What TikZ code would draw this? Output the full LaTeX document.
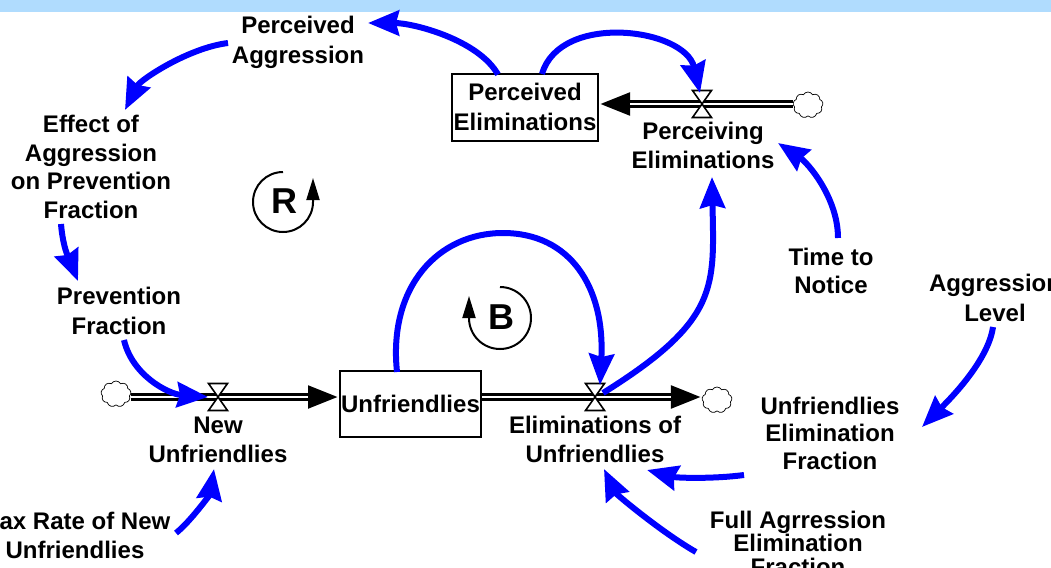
\documentclass[tikz,border=0pt]{standalone}
\usepackage{fontspec}
\setmainfont{Liberation Sans}
\usetikzlibrary{arrows.meta,calc,shapes.symbols}
\definecolor{bandblue}{RGB}{176,220,254}
\definecolor{linkblue}{RGB}{0,0,255}
\newcommand\lstrut{\rule[\dimexpr 8.5pt-0.5\baselineskip\relax]{0pt}{\baselineskip}}
\newcommand\lblfont[1]{\fontsize{24pt}{#1}\selectfont\bfseries\lineskiplimit=-100pt\relax}
\begin{document}
\begin{tikzpicture}[x=1pt,y=-1pt,
  lbl/.style={inner sep=0pt,align=center,font=\lblfont{29pt}},
  stockbox/.style={draw,line width=2pt,inner sep=0pt,align=center,font=\lblfont{30pt}},
  srcsink/.style={cloud,cloud puffs=9,cloud puff arc=120,aspect=1.1,draw,line width=0.7pt,inner sep=0pt,minimum width=30pt,minimum height=26pt},
  pipe/.style={line width=7.5pt,-{Triangle[length=31pt,width=21pt]}},
  pipecore/.style={white,line width=2.6pt,shorten >=31pt},
  valveshape/.style={draw,fill=white,line width=1.6pt,line join=miter},
  loopline/.style={line width=2pt,-{Triangle[length=22pt,width=13pt]}},
  looplabel/.style={inner sep=0pt,font=\fontsize{36pt}{36pt}\selectfont\bfseries},
  infl/.style={draw=linkblue,line width=6pt,-{Stealth[length=31pt,width=25pt,inset=3pt]}}
]
\path[use as bounding box] (0,0) rectangle (1051,567);
\fill[bandblue] (0,0) rectangle (1051,12.5);

% text variables
\node[lbl,font=\lblfont{30pt}] (pa) at (298,40) {Perceived\lstrut\\Aggression\lstrut};
\node[lbl,font=\lblfont{28.7pt}] (eff) at (91,167) {Effect of\lstrut\\Aggression\lstrut\\on Prevention\lstrut\\Fraction\lstrut};
\node[lbl,font=\lblfont{30pt}] (pf) at (119,310.5) {Prevention\lstrut\\Fraction\lstrut};
\node[lbl] (pvl) at (703,145.5) {Perceiving\lstrut\\Eliminations\lstrut};
\node[lbl,font=\lblfont{28.5pt}] (tn) at (831,271) {Time to\lstrut\\Notice\lstrut};
\node[lbl,font=\lblfont{30pt}] (al) at (995,298) {Aggression\lstrut\\Level\lstrut};
\node[lbl,font=\lblfont{27.5pt}] (uef) at (830,433) {Unfriendlies\lstrut\\Elimination\lstrut\\Fraction\lstrut};
\node[lbl,font=\lblfont{23.5pt}] (fae) at (798,543) {Full Agrression\lstrut\\Elimination\lstrut\\Fraction\lstrut};
\node[lbl] (nvl) at (218,439) {New\lstrut\\Unfriendlies\lstrut};
\node[lbl] (evl) at (595,439) {Eliminations of\lstrut\\Unfriendlies\lstrut};
\node[lbl] (mr) at (75,535.5) {Max Rate of New\lstrut\\Unfriendlies\lstrut};

% stocks and clouds
\node[stockbox,minimum width=146pt,minimum height=67pt] (pe) at (525,107.5) {Perceived\lstrut\\Eliminations\lstrut};
\node[stockbox,minimum width=141pt,minimum height=66pt] (un) at (410.5,404) {Unfriendlies\lstrut};
\node[srcsink] (c1) at (116,394) {};
\node[srcsink] (c2) at (717,400) {};
\node[srcsink] (c3) at (808,105) {};

% valves
\coordinate (nv) at (218,397);
\coordinate (ev) at (595,397);
\coordinate (pv) at (702,104);
\coordinate (bapex) at (503,233);

% pipes
\draw[pipe] (nv -| c1.east) -- (nv -| un.west);
\draw[pipecore] (nv -| c1.east) -- (nv -| un.west);
\draw[pipe] (ev -| un.east) -- (ev -| c2.west);
\draw[pipecore] (ev -| un.east) -- (ev -| c2.west);
\draw[pipe] (pv -| c3.west) -- (pv -| pe.east);
\draw[pipecore] (pv -| c3.west) -- (pv -| pe.east);

\foreach \v in {nv,ev,pv}{
  \draw[valveshape] ($(\v)+(-9.5,-13.5)$) -- ++(19,0) -- ($(\v)+(-9.5,13.5)$) -- ++(19,0) -- cycle;
}

% loop symbols
\node[looplabel] (rl) at (284,201) {R};
\draw[loopline] ($(rl)+(-1,-29)$) arc[start angle=270,end angle=0,radius=30] -- ++(0,-24);
\node[looplabel] (bl) at (501,317) {B};
\draw[loopline] ($(bl)+(-1,-30)$) arc[start angle=270,end angle=540,radius=31] -- ++(0,-22);

% influence links
\draw[infl] ($(pe)+(-27,-33)$) .. controls +(-20,-35) and +(45,0) .. ($(pa)+(70,-17)$);
\draw[infl] ($(pa)+(-70,3)$) .. controls +(-40,5) and +(15,-30) .. ($(eff)+(34,-57)$);
\draw[infl] ($(eff)+(-30,57)$) .. controls +(2,25) and +(-8,-20) .. ($(pf)+(-41,-29.5)$);
\draw[infl] ($(pf)+(5,29.5)$) .. controls +(8,35) and +(-40,-3) .. ($(nv)+(-10,0)$);
\draw[infl] ($(un)+(-13.5,-32)$) .. controls +(-9,-85) and +(-65,0) .. (bapex) .. controls +(67,0) and +(5,-98) .. ($(ev)+(5,-12)$);
\draw[infl] ($(ev)+(8,-4)$) .. controls +(117,-73) and +(2,110) .. ($(pvl)+(9,31.5)$);
\draw[infl] ($(pe)+(17,-33.5)$) .. controls +(18,-62) and +(-15,-65) .. ($(pv)+(-2,-11)$);
\draw[infl] ($(tn)+(7,-33)$) .. controls +(0,-40) and +(30,20) .. ($(pvl)+(75,-2.5)$);
\draw[infl] ($(al)+(-2,29)$) .. controls +(-5,35) and +(25,-25) .. ($(uef)+(92,-6)$);
\draw[infl] ($(uef)+(-86,42)$) .. controls +(-30,4) and +(30,8) .. ($(evl)+(52,31)$);
\draw[infl] ($(fae)+(-102,9)$) .. controls +(-35,-20) and +(12,25) .. ($(evl)+(9,30)$);
\draw[infl] ($(mr)+(101,-2.5)$) .. controls +(15,-12) and +(-4,25) .. ($(nvl)+(-4,30)$);
\end{tikzpicture}
\end{document}
